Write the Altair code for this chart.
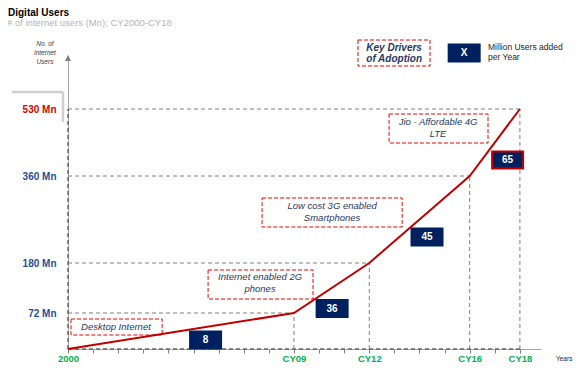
import altair as alt
import pandas as pd

# ---- data ----
years = [2000, 2009, 2012, 2016, 2018]
users = [0, 72, 180, 360, 530]
x_labels = ["2000", "CY09", "CY12", "CY16", "CY18"]
y_ticks = [72, 180, 360, 530]

added_labels = ["8", "36", "45", "65"]
added_years = [2005.48, 2010.52, 2014.30, 2017.51]
added_vals = [18, 81.7, 233.8, 400.6]

drivers = ["Desktop Internet", "Internet enabled 2G\nphones",
           "Low cost 3G enabled\nSmartphones", "Jio - Affordable 4G\nLTE"]
drv_x0 = [2000.12, 2005.58, 2007.73, 2012.79]
drv_x1 = [2003.75, 2009.76, 2013.31, 2016.73]
drv_y0 = [28, 102.2, 254.5, 443.7]
drv_y1 = [60, 164.9, 314.5, 517.3]
drv_tx = [2001.91, 2007.65, 2010.52, 2014.74]
drv_ty = [44, 136.8, 285.5, 481.8]
drv_lines = [1, 2, 2, 2]

key_text = ["Key Drivers\nof Adoption"]
key_box = [2011.55, 2014.42, 625.6, 683.3]
key_pos = [2012.99, 654.4]

legend_box_pos = [2015.78, 654.4]
legend_text = ["Million Users added\nper Year"]
legend_text_pos = [2016.73, 656.7]

ytitle_text = ["No. of\nInternet\nUsers"]
ytitle_pos = [1999.08, 654.4]

FONT = "Liberation Sans"
NAVY = "#002060"
RED = "#C00000"
DASHRED = "#F00000"
GRAY = "#7f7f7f"

xs = alt.Scale(domain=[2000, 2018.84], nice=False, zero=False)
ys = alt.Scale(domain=[0, 72, 180, 360, 530, 650],
               range=[294, 258, 208, 121, 54, 0], nice=False, zero=False)

lab_expr = "".join(f"datum.value == {y} ? '{l}' : " for y, l in zip(years, x_labels)) + "''"
xaxis = alt.Axis(values=list(range(2000, 2019)), labelExpr=lab_expr, grid=False,
                 domainColor="#a6a6a6", tickColor=GRAY, tickSize=4, labelPadding=0,
                 labelColor="#00B050", labelFont=FONT, labelFontWeight="bold",
                 labelFontSize=9.5, labelOverlap=False, labelFlush=False)
yaxis = alt.Axis(values=y_ticks, labelExpr="datum.value + ' Mn'", grid=False,
                 domainColor="#a6a6a6", ticks=False, labelPadding=12,
                 labelColor={"condition": {"test": "datum.value == 530", "value": "#E00000"},
                             "value": "#1F4E96"},
                 labelFont=FONT, labelFontWeight="bold", labelFontSize=10)


def X(f):
    return alt.X(f, type="quantitative", scale=xs, axis=xaxis, title=None)


def Y(f):
    return alt.Y(f, type="quantitative", scale=ys, axis=yaxis, title=None)


base = pd.DataFrame({"year": years, "val": users, "label": x_labels})
pts = base[base["year"] > 2000]

hrules = alt.Chart(pts).mark_rule(color=GRAY, strokeDash=[4, 3], strokeWidth=1).transform_calculate(
    x0="2000").encode(x=X("x0"), x2="year:Q", y=Y("val"))
vrules = alt.Chart(pts).mark_rule(color=GRAY, strokeDash=[4, 3], strokeWidth=1).transform_calculate(
    y0="0").encode(x=X("year"), y=Y("y0"), y2="val:Q")

axis_dash = pd.DataFrame({"year": [2000], "year2": [2018], "val": [0], "val2": [530]})
ydash = alt.Chart(axis_dash).mark_rule(color="#666666", strokeDash=[4, 3], strokeWidth=1.5).encode(
    x=X("year"), y=Y("val"), y2="val2:Q")
xdash = alt.Chart(axis_dash).mark_rule(color="#666666", strokeDash=[4, 3], strokeWidth=1.5).encode(
    x=X("year"), x2="year2:Q", y=Y("val"))

arrow = alt.Chart(pd.DataFrame({"year": [2000], "val": [650]})).mark_point(
    shape="M0,0L-1,2L1,2Z", size=36, filled=True, color=GRAY, opacity=1).encode(
    x=X("year"), y=Y("val"))

line = alt.Chart(base).mark_line(color=RED, strokeWidth=2).encode(x=X("year"), y=Y("val"))

# shadow box around the 530 label
shadow_top = alt.Chart(pd.DataFrame({"year": [1997.77], "year2": [1999.80], "val": [567.8]})).mark_rule(
    color="#cfcfcf", strokeWidth=2.5).encode(x=X("year"), x2="year2:Q", y=Y("val"))
shadow_right = alt.Chart(pd.DataFrame({"year": [1999.80], "val": [497], "val2": [567.8]})).mark_rule(
    color="#cfcfcf", strokeWidth=2.5).encode(x=X("year"), y=Y("val"), y2="val2:Q")

# driver boxes
drv = pd.DataFrame({"year": drv_x0, "year2": drv_x1, "val": drv_y0, "val2": drv_y1,
                    "tx": drv_tx, "ty": drv_ty, "text": drivers, "n": drv_lines})
drv_rect = alt.Chart(drv).mark_rect(fillOpacity=0, stroke=DASHRED, strokeDash=[4, 2],
                                    strokeWidth=1).encode(
    x=X("year"), x2="year2:Q", y=Y("val"), y2="val2:Q")
drv_txt1 = alt.Chart(drv).transform_filter("datum.n == 1").mark_text(
    font=FONT, fontStyle="italic", fontSize=9.5, color="#1F3864", baseline="middle").encode(
    x=X("tx"), y=Y("ty"), text="text:N")
drv_txt2 = alt.Chart(drv).transform_filter("datum.n == 2").mark_text(
    font=FONT, fontStyle="italic", fontSize=9.5, color="#1F3864",
    lineBreak="\n", lineHeight=12, baseline="middle", dy=-6).encode(
    x=X("tx"), y=Y("ty"), text="text:N")

key = pd.DataFrame({"year": [key_box[0]], "year2": [key_box[1]], "val": [key_box[2]],
                    "val2": [key_box[3]], "tx": [key_pos[0]], "ty": [key_pos[1]], "text": key_text})
key_rect = alt.Chart(key).mark_rect(fillOpacity=0, stroke=DASHRED, strokeDash=[4, 2],
                                    strokeWidth=1).encode(
    x=X("year"), x2="year2:Q", y=Y("val"), y2="val2:Q")
key_txt = alt.Chart(key).mark_text(font=FONT, fontStyle="italic", fontWeight="bold", fontSize=10,
                                   color="#1F3864", lineBreak="\n", lineHeight=11,
                                   baseline="middle", dy=-5.5).encode(
    x=X("tx"), y=Y("ty"), text="text:N")

# navy "added per year" boxes
BOX = "M-1,-0.548L1,-0.548L1,0.548L-1,0.548Z"
add = pd.DataFrame({"year": added_years + [legend_box_pos[0]],
                    "val": added_vals + [legend_box_pos[1]],
                    "label": added_labels + ["X"]})
add_box = alt.Chart(add).mark_point(shape=BOX, size=961, filled=True, fill=NAVY, opacity=1,
                                    strokeWidth=2).encode(
    x=X("year"), y=Y("val"),
    stroke=alt.condition("datum.label == '65'", alt.value(RED), alt.value(NAVY)))
add_txt = alt.Chart(add).mark_text(font=FONT, fontWeight="bold", fontSize=10, color="white",
                                   baseline="middle").encode(
    x=X("year"), y=Y("val"), text="label:N")

leg_txt = alt.Chart(pd.DataFrame({"year": [legend_text_pos[0]], "val": [legend_text_pos[1]],
                                  "text": legend_text})).mark_text(
    font=FONT, fontSize=8.5, color="#262626", align="left", baseline="middle",
    lineBreak="\n", lineHeight=10, dy=-5).encode(x=X("year"), y=Y("val"), text="text:N")

ytitle = alt.Chart(pd.DataFrame({"year": [ytitle_pos[0]], "val": [ytitle_pos[1]],
                                 "text": ytitle_text})).mark_text(
    font=FONT, fontSize=6.5, fontStyle="italic", color="#404040", baseline="middle",
    lineBreak="\n", lineHeight=9, dy=-9).encode(x=X("year"), y=Y("val"), text="text:N")

title = alt.Chart(pd.DataFrame({"t": ["Digital Users"]})).mark_text(
    font=FONT, fontSize=10, fontWeight="bold", color="#000000", align="left",
    baseline="alphabetic").encode(x=alt.value(-60), y=alt.value(-39), text="t:N")
subtitle = alt.Chart(pd.DataFrame({"t": ["# of internet users (Mn); CY2000-CY18"]})).mark_text(
    font=FONT, fontSize=9.5, color="#b4b4b4", align="left",
    baseline="alphabetic").encode(x=alt.value(-61), y=alt.value(-29), text="t:N")
years_t = alt.Chart(pd.DataFrame({"t": ["Years"]})).mark_text(
    font=FONT, fontSize=6.5, color="#262626", align="left",
    baseline="middle").encode(x=alt.value(488), y=alt.value(304), text="t:N")

chart = alt.layer(
    hrules, vrules, ydash, xdash, arrow, shadow_top, shadow_right,
    drv_rect, drv_txt1, drv_txt2, key_rect, key_txt, line, add_box, add_txt, leg_txt, ytitle,
    title, subtitle, years_t
).properties(
    width=473, height=294,
    autosize=alt.AutoSizeParams(type="none"),
    padding={"left": 60, "top": 47, "right": 33, "bottom": 14},
    background="white"
).configure_view(stroke=None)

chart.save("out.html", embed_options={"renderer": "svg", "actions": False})
